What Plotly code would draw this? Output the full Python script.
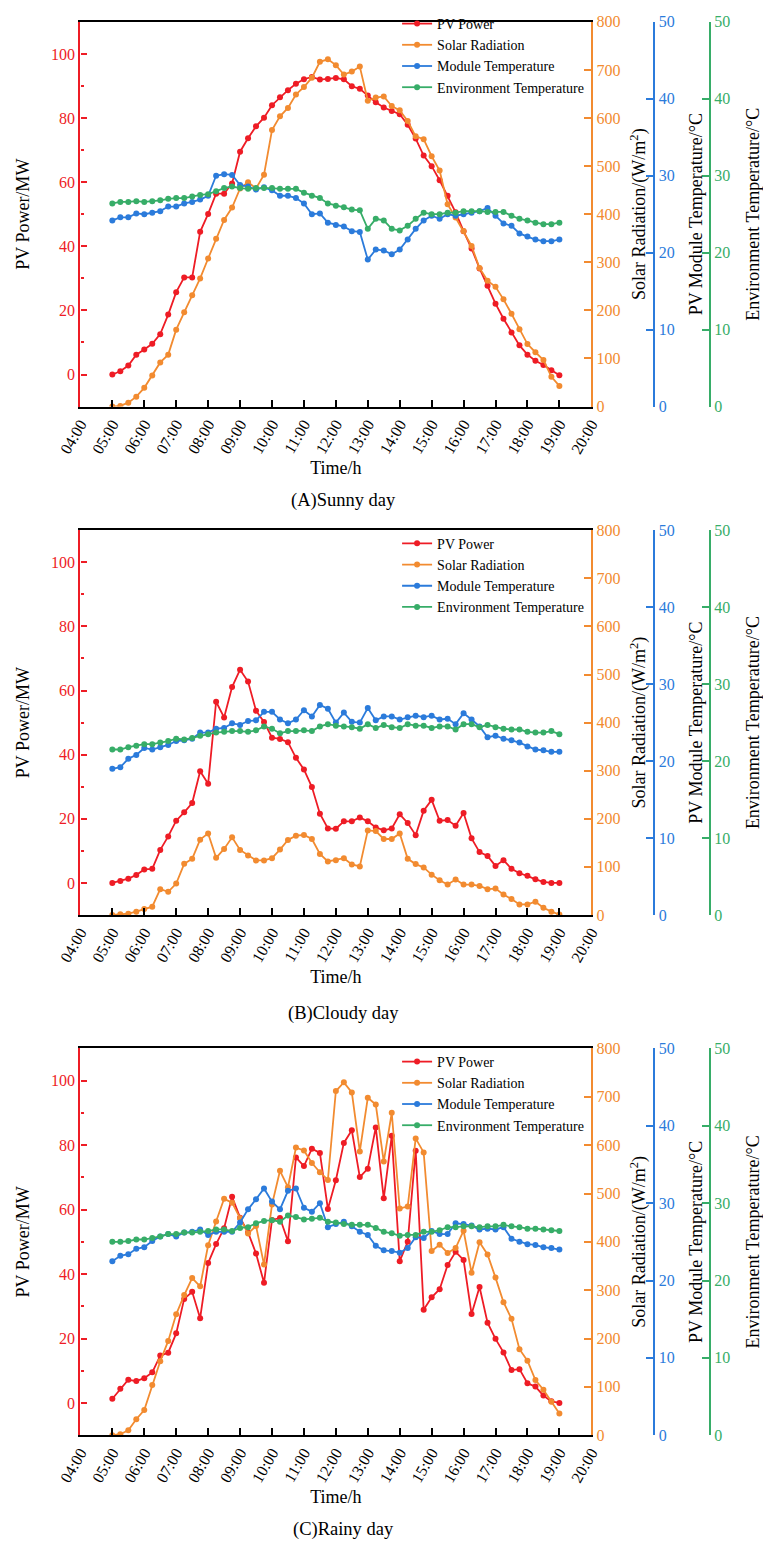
import plotly.graph_objects as go

# ---------------- data ----------------
TIMES = [f"{h:02d}:{m:02d}" for h in range(5, 19) for m in (0, 15, 30, 45)] + ["19:00"]
X = ["2000-01-01 " + t for t in TIMES]

SERIES_NAMES = ["PV Power", "Solar Radiation", "Module Temperature", "Environment Temperature"]
PANEL_TITLES = ["(A)Sunny day", "(B)Cloudy day", "(C)Rainy day"]

PV_A = [0, 1.0, 2.8, 6.2, 7.8, 9.6, 12.6, 18.7, 25.7, 30.3,
        30.3, 44.5, 50.1, 56.4, 56.4, 59.6, 69.5, 73.7, 77.4, 80.1,
        84.0, 86.5, 88.7, 90.7, 92.1, 92.8, 92.0, 92.2, 92.5, 92.1,
        89.9, 89.1, 87.0, 84.9, 83.3, 82.2, 81.2, 77.9, 73.6, 68.3,
        65.0, 60.6, 55.8, 50.6, 44.7, 39.3, 33.1, 27.7, 22.1, 17.4,
        13.1, 9.1, 6.2, 4.3, 3.0, 1.3, -0.2]
SR_A = [0, 1.4, 8.2, 20.6, 39, 64.4, 91.8, 108, 160, 196,
        231.5, 266.5, 308, 349, 388, 414, 453.5, 466.5, 453.5, 482,
        575, 603.5, 621, 649, 664.5, 684, 717, 722, 710, 690.5,
        696.6, 707, 636, 642.5, 645, 625, 616, 594, 562, 556,
        520.6, 491, 420.6, 393, 365, 334, 288, 261.7, 249, 223,
        193, 161, 130, 113, 97, 62, 43]
MT_A = [24.2, 24.6, 24.6, 25.1, 25.0, 25.2, 25.4, 26.0, 26.0, 26.4,
        26.6, 26.9, 27.4, 30.0, 30.2, 30.1, 28.8, 28.6, 28.2, 28.5,
        28.1, 27.4, 27.4, 27.1, 26.4, 25.0, 25.1, 23.9, 23.6, 23.4,
        22.8, 22.7, 19.1, 20.4, 20.3, 19.8, 20.4, 21.7, 23.1, 24.2,
        24.8, 24.4, 25.0, 24.8, 25.0, 25.2, 25.4, 25.8, 24.8, 23.8,
        23.5, 22.5, 22.1, 21.7, 21.5, 21.5, 21.7]
ET_A = [26.4, 26.6, 26.6, 26.7, 26.6, 26.7, 26.8, 27.0, 27.1, 27.1,
        27.3, 27.5, 27.6, 28.0, 28.4, 28.6, 28.4, 28.3, 28.4, 28.4,
        28.4, 28.3, 28.3, 28.3, 27.8, 27.4, 27.1, 26.4, 26.1, 25.9,
        25.6, 25.5, 23.1, 24.4, 24.2, 23.1, 22.9, 23.5, 24.4, 25.2,
        25.0, 25.0, 25.2, 25.2, 25.4, 25.4, 25.4, 25.3, 25.3, 25.3,
        24.8, 24.4, 24.2, 23.9, 23.7, 23.7, 23.9]

PV_B = [0, 0.6, 1.3, 2.5, 4.2, 4.4, 10.3, 14.5, 19.4, 22.0,
        24.9, 34.8, 30.9, 56.5, 51.6, 61.1, 66.5, 62.8, 53.7, 50.2,
        45.3, 44.9, 43.9, 39.0, 35.4, 29.9, 21.6, 17.0, 16.9, 19.2,
        19.2, 20.4, 19.2, 17.3, 16.4, 17.0, 21.4, 18.7, 14.9, 22.5,
        25.9, 19.4, 19.6, 17.8, 21.8, 13.9, 9.6, 8.4, 5.3, 7.1,
        4.4, 3.0, 2.2, 1.1, 0.3, 0, 0]
SR_B = [0, 1.4, 2.7, 6.9, 12.4, 17.2, 53.6, 48.1, 65.2, 106.4,
        116.7, 156.6, 169.6, 118.8, 137.3, 161.4, 135.3, 123.6, 113.3, 113.3,
        118.1, 136, 155.9, 164.8, 166.2, 158, 127, 111.2, 114, 118,
        105, 101, 175.8, 174.4, 158, 158, 169.6, 116.7, 105.8, 98.9,
        83.8, 72.1, 63.2, 73.5, 63.2, 63.2, 60.4, 53.6, 54.9, 42.6,
        33, 22, 22, 27.5, 15.1, 6.9, 1.0]
MT_B = [19.0, 19.2, 20.3, 20.8, 21.7, 21.5, 21.8, 22.1, 22.6, 22.7,
        22.9, 23.7, 23.7, 24.2, 24.3, 24.9, 24.7, 25.2, 25.3, 26.4,
        26.4, 25.4, 24.9, 25.4, 26.6, 25.8, 27.3, 26.8, 25.0, 26.3,
        25.1, 25.0, 26.9, 25.3, 25.8, 25.8, 25.4, 25.7, 25.9, 25.7,
        25.9, 25.4, 25.5, 24.8, 26.2, 25.4, 24.5, 23.1, 23.3, 22.9,
        22.7, 22.4, 21.9, 21.5, 21.4, 21.2, 21.2]
ET_B = [21.5, 21.5, 21.8, 22.0, 22.2, 22.2, 22.4, 22.6, 22.9, 22.8,
        23.0, 23.3, 23.5, 23.7, 23.8, 23.9, 23.9, 23.8, 24.0, 24.5,
        24.2, 23.6, 23.9, 23.9, 24.0, 23.9, 24.5, 24.8, 24.6, 24.5,
        24.4, 24.2, 24.8, 24.3, 24.7, 24.4, 24.3, 24.8, 24.6, 24.6,
        24.3, 24.5, 24.5, 24.1, 24.8, 24.8, 24.4, 24.7, 24.4, 24.2,
        24.1, 24.1, 23.8, 23.7, 23.7, 23.9, 23.5]

PV_C = [1.3, 4.4, 7.2, 6.8, 7.7, 9.5, 14.7, 15.6, 21.6, 32.3,
        34.5, 26.3, 43.4, 49.3, 54.2, 64.0, 57.5, 52.9, 46.4, 37.3,
        56.8, 57.4, 50.2, 76.2, 73.5, 78.9, 77.6, 60.2, 69.1, 80.7,
        84.6, 70.1, 72.7, 85.5, 63.5, 82.9, 44.0, 50.0, 78.3, 28.9,
        32.8, 35.3, 42.8, 46.9, 44.4, 27.6, 36.0, 24.9, 19.9, 15.7,
        10.2, 10.5, 6.1, 5.1, 2.3, 0.5, 0]
SR_C = [0, 2, 10, 33, 52, 104, 153, 195, 250, 290,
        325, 308, 393, 442, 489, 481, 449, 417, 433, 353,
        477, 547, 513, 595, 589, 563, 544, 528, 712, 730,
        709, 587, 698, 684, 566, 667, 469, 473, 614, 585,
        381, 394, 377, 387, 423, 336, 399, 374, 326, 275,
        241, 178, 154, 114, 94, 69, 45]
MT_C = [22.5, 23.2, 23.4, 24.1, 24.3, 25.1, 25.7, 26.0, 25.7, 26.2,
        26.3, 26.6, 25.9, 26.3, 26.3, 26.3, 27.5, 29.2, 30.5, 31.9,
        30.2, 29.2, 31.6, 31.9, 29.4, 28.9, 30.0, 26.9, 27.3, 27.6,
        27.0, 26.3, 25.9, 24.5, 23.9, 23.8, 23.6, 24.2, 25.6, 25.5,
        26.4, 26.0, 26.0, 27.4, 27.3, 27.1, 26.6, 26.7, 26.6, 26.9,
        25.4, 25.0, 24.7, 24.6, 24.3, 24.2, 24.0]
ET_C = [25.0, 25.0, 25.1, 25.3, 25.3, 25.5, 25.7, 26.0, 26.0, 26.2,
        26.2, 26.3, 26.4, 26.6, 26.6, 26.4, 26.8, 26.9, 27.4, 27.7,
        27.8, 27.6, 28.4, 28.2, 27.9, 28.0, 28.1, 27.6, 27.5, 27.3,
        27.2, 27.2, 27.2, 26.8, 26.3, 26.1, 25.8, 25.9, 25.9, 26.3,
        26.3, 26.5, 26.9, 26.9, 27.0, 27.0, 26.9, 27.0, 27.0, 27.2,
        27.0, 26.9, 26.7, 26.7, 26.6, 26.5, 26.4]

PANELS = [(PV_A, SR_A, MT_A, ET_A), (PV_B, SR_B, MT_B, ET_B), (PV_C, SR_C, MT_C, ET_C)]

# ---------------- styling ----------------
W, H = 763, 1553
FONT = "Liberation Serif"
RED, ORANGE, BLUE, GREEN = "#EE1C25", "#F28B30", "#2B7BDB", "#37AD68"
COLORS = [RED, ORANGE, BLUE, GREEN]

X_LEFT, X_RIGHT = 60, 594
BLUE_POS, GREEN_POS = 660, 718
PANEL_PX = [(14, 403), (528, 917), (1052, 1443)]   # top, bottom in pixels
CAPTION_Y = [498, 1017, 1538]
LEGEND_TOP = [0, 525.5, 1049.5]
LEGEND_X = 391


def px_x(v):
    return v / W


def px_y(v):
    return 1 - v / H


fig = go.Figure()
layout = dict(
    width=W, height=H, autosize=False,
    margin=dict(l=0, r=0, t=0, b=0),
    paper_bgcolor="white", plot_bgcolor="white",
    font=dict(family=FONT, size=15, color="black"),
    annotations=[],
)

for p, data in enumerate(PANELS):
    top, bot = PANEL_PX[p]
    dom_y = [px_y(bot), px_y(top)]
    xn = "x" if p == 0 else f"x{p+1}"
    xkey = "xaxis" if p == 0 else f"xaxis{p+1}"
    yids = [4 * p + i + 1 for i in range(4)]
    yn = ["y" if k == 1 else f"y{k}" for k in yids]
    ykey = ["yaxis" if k == 1 else f"yaxis{k}" for k in yids]
    leg = "legend" if p == 0 else f"legend{p+1}"

    layout[xkey] = dict(
        type="date", domain=[px_x(X_LEFT), px_x(X_RIGHT)], anchor=yn[0],
        range=["2000-01-01 04:00", "2000-01-01 20:00"],
        tick0="2000-01-01 04:00", dtick=3600000, tickformat="%H:%M",
        tickangle=-60, ticks="inside", ticklen=7, tickwidth=1.5, tickcolor="black",
        showline=True, linecolor="black", linewidth=2, mirror=True,
        showgrid=False, zeroline=False,
        tickfont=dict(family=FONT, size=16, color="black"),
        title=dict(text="Time/h", font=dict(family=FONT, size=18, color="black"), standoff=6),
    )
    # left: PV power
    layout[ykey[0]] = dict(
        domain=dom_y, anchor=xn, range=[-10, 110],
        tickmode="array", tickvals=[0, 20, 40, 60, 80, 100],
        ticks="inside", ticklen=6, tickwidth=1.5, tickcolor=RED,
        minor=dict(ticks="inside", ticklen=3.5, tickwidth=1.5, tickcolor=RED, dtick=10, tick0=0),
        showline=True, linecolor=RED, linewidth=2.2,
        showgrid=False, zeroline=False,
        tickfont=dict(family=FONT, size=16, color=RED),
        title=dict(text="PV Power/MW", font=dict(family=FONT, size=18, color="black"), standoff=17),
    )
    # right: solar radiation
    layout[ykey[1]] = dict(
        overlaying=yn[0], side="right", anchor=xn, range=[0, 800], dtick=100,
        ticks="inside", ticklen=7, tickwidth=1.5, tickcolor=ORANGE,
        showline=True, linecolor=ORANGE, linewidth=2.2,
        showgrid=False, zeroline=False,
        tickfont=dict(family=FONT, size=16, color=ORANGE),
        title=dict(text="Solar Radiation/(W/m<sup>2</sup>)", font=dict(family=FONT, size=18, color="black"), standoff=13),
    )
    # module temperature & environment temperature
    for j, (pos, col, ttl, so) in enumerate([(BLUE_POS, BLUE, "PV Module Temperature/°C", 15),
                                             (GREEN_POS, GREEN, "Environment Temperature/°C", 17)]):
        layout[ykey[2 + j]] = dict(
            overlaying=yn[0], side="right", anchor="free", position=px_x(pos),
            range=[0, 50], dtick=10,
            ticks="inside", ticklen=7, tickwidth=1.5, tickcolor=col,
            showline=True, linecolor=col, linewidth=2.2,
            showgrid=False, zeroline=False,
            tickfont=dict(family=FONT, size=16, color=col),
            title=dict(text=ttl, font=dict(family=FONT, size=18, color="black"), standoff=so),
        )

    for i, series in enumerate(data):
        fig.add_trace(go.Scatter(
            x=X, y=series, name=SERIES_NAMES[i], mode="lines+markers",
            line=dict(color=COLORS[i], width=1.8),
            marker=dict(color=COLORS[i], size=6),
            xaxis=xn, yaxis=yn[i], legend=leg, showlegend=True,
        ))

    layout[leg] = dict(
        x=px_x(LEGEND_X), y=px_y(LEGEND_TOP[p]), xanchor="left", yanchor="top",
        bgcolor="rgba(0,0,0,0)", borderwidth=0,
        font=dict(family=FONT, size=14, color="black"),
        tracegroupgap=0,
    )
    layout["annotations"].append(dict(
        text=PANEL_TITLES[p], xref="paper", yref="paper",
        x=px_x(335), y=px_y(CAPTION_Y[p]), xanchor="center", yanchor="middle",
        showarrow=False, font=dict(family=FONT, size=18.5, color="black"),
    ))

fig.update_layout(**layout)
fig.write_html("out.html")
